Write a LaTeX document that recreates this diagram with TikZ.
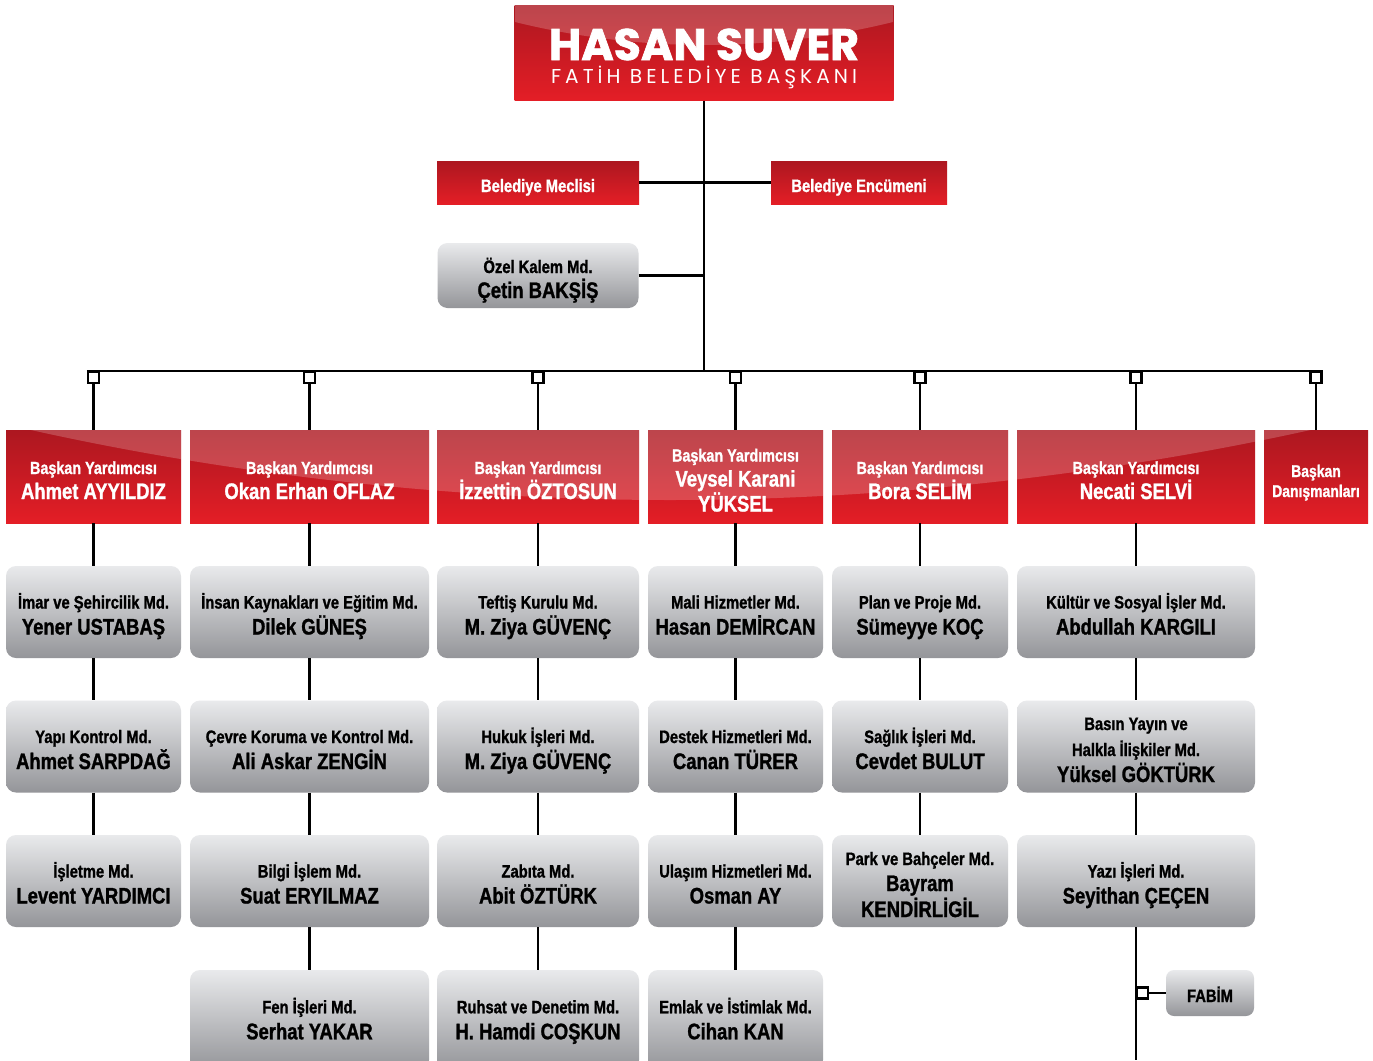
\documentclass[tikz,border=0pt]{standalone}
\usepackage{fontspec}
\usepackage{graphicx}
\setmainfont{Liberation Sans}
\newfontfamily\cond[FakeStretch=0.82, BoldFeatures={FakeBold=1.2}]{Liberation Sans}
\newfontfamily\pop[BoldFeatures={FakeBold=1.5}]{Poppins}
\newfontfamily\popsp[LetterSpace=20]{Poppins}
\definecolor{rdark}{HTML}{AC1720}
\definecolor{rbright}{HTML}{E41E26}
\definecolor{gtop}{HTML}{E9EAEC}
\definecolor{gbot}{HTML}{949599}
\newcommand\tp[1]{\rule{0pt}{#1pt}}
\newcommand\bt{\rule[-6pt]{0pt}{6pt}}
\newcommand\nm[1]{{\fontsize{22.5}{26}\selectfont #1}}
\newcommand\rn[1]{{\fontsize{22.5}{25}\selectfont #1}}
\tikzset{
 conn/.style={line width=2.5pt, black},
 sqbox/.style={draw=black, fill=white, line width=2.2pt, minimum size=11pt, inner sep=0pt},
 redbox/.style={inner sep=0pt, minimum height=93pt, top color=rdark, bottom color=rbright, text=white, align=center, font=\cond\bfseries\fontsize{17.5}{25}\selectfont},
 hdrbox/.style={inner sep=0pt, minimum height=43pt, top color=rdark, bottom color=rbright, text=white, align=center, font=\cond\bfseries\fontsize{18}{25}\selectfont},
 graybox/.style={rounded corners=10pt, inner sep=0pt, minimum height=92pt, top color=gtop, bottom color=gbot, text=black, align=center, font=\cond\bfseries\fontsize{18}{26}\selectfont},
 lastrow/.style={graybox, minimum height=100pt},
 gloss/.style={white, opacity=0.2},
}
\begin{document}
\begin{tikzpicture}[x=1pt,y=-1pt]
\useasboundingbox[fill=white] (0,0) rectangle (1373,1060);

% title
\node[redbox, minimum width=379pt, minimum height=95pt, font=\fontsize{10}{23}\selectfont] (title) at (704,53)
 {\tp{43}\resizebox{310pt}{!}{\fontsize{46}{46}\pop\bfseries HASAN SUVER}\\\resizebox{306pt}{!}{\fontsize{17}{17}\popsp FATİH BELEDİYE BAŞKANI}\bt};
\begin{scope}
 \clip (title.north west) rectangle (title.south east);
 \fill[gloss] (515,0) -- (515,22) parabola bend (704,45) (893,22) -- (893,0) -- cycle;
\end{scope}

\node[hdrbox, minimum width=202pt] (mec) at (538,182.5) {\tp{25}Belediye Meclisi\bt};
\node[hdrbox, minimum width=176pt] (enc) at (859,182.5) {\tp{25}Belediye Encümeni\bt};
\node[graybox, minimum width=201pt, minimum height=65pt, font=\cond\bfseries\fontsize{18}{25}\selectfont] (ozel) at (538,275.5) {\tp{26}Özel Kalem Md.\\\nm{Çetin BAKŞİŞ}\bt};

% vice presidents
\node[redbox, minimum width=175pt] (v1) at (93.5,476.5) {\tp{26}Başkan Yardımcısı\\\rn{Ahmet AYYILDIZ}\bt};
\node[redbox, minimum width=239pt] (v2) at (309.5,476.5) {\tp{26}Başkan Yardımcısı\\\rn{Okan Erhan OFLAZ}\bt};
\node[redbox, minimum width=202pt] (v3) at (538,476.5) {\tp{26}Başkan Yardımcısı\\\rn{İzzettin ÖZTOSUN}\bt};
\node[redbox, minimum width=175pt] (v4) at (735.5,476.5) {\tp{26}Başkan Yardımcısı\\\rn{Veysel Karani}\\\rn{YÜKSEL}\bt};
\node[redbox, minimum width=176pt] (v5) at (920,476.5) {\tp{26}Başkan Yardımcısı\\\rn{Bora SELİM}\bt};
\node[redbox, minimum width=238pt] (v6) at (1136,476.5) {\tp{26}Başkan Yardımcısı\\\rn{Necati SELVİ}\bt};
\node[redbox, minimum width=104pt, font=\cond\bfseries\fontsize{17}{20}\selectfont] (v7) at (1316,476.5) {\tp{27}Başkan\\Danışmanları\bt};
\begin{scope}
 \clip (v1.north west) rectangle (v1.south east) (v2.north west) rectangle (v2.south east)
       (v3.north west) rectangle (v3.south east) (v4.north west) rectangle (v4.south east)
       (v5.north west) rectangle (v5.south east) (v6.north west) rectangle (v6.south east)
       (v7.north west) rectangle (v7.south east);
 \fill[gloss] (0,400) -- (0,423) parabola bend (670,500) (1373,415.5) -- (1373,400) -- cycle;
\end{scope}

% column 1
\node[graybox, minimum width=175pt] (g11) at (93.5,612) {\tp{25}İmar ve Şehircilik Md.\\\nm{Yener USTABAŞ}\bt};
\node[graybox, minimum width=175pt] (g12) at (93.5,746.5) {\tp{25}Yapı Kontrol Md.\\\nm{Ahmet SARPDAĞ}\bt};
\node[graybox, minimum width=175pt] (g13) at (93.5,881) {\tp{25}İşletme Md.\\\nm{Levent YARDIMCI}\bt};
% column 2
\node[graybox, minimum width=239pt] (g21) at (309.5,612) {\tp{25}İnsan Kaynakları ve Eğitim Md.\\\nm{Dilek GÜNEŞ}\bt};
\node[graybox, minimum width=239pt] (g22) at (309.5,746.5) {\tp{25}Çevre Koruma ve Kontrol Md.\\\nm{Ali Askar ZENGİN}\bt};
\node[graybox, minimum width=239pt] (g23) at (309.5,881) {\tp{25}Bilgi İşlem Md.\\\nm{Suat ERYILMAZ}\bt};
\node[lastrow, minimum width=239pt] (g24) at (309.5,1020) {\tp{18.5}Fen İşleri Md.\\\nm{Serhat YAKAR}\bt};
% column 3
\node[graybox, minimum width=202pt] (g31) at (538,612) {\tp{25}Teftiş Kurulu Md.\\\nm{M. Ziya GÜVENÇ}\bt};
\node[graybox, minimum width=202pt] (g32) at (538,746.5) {\tp{25}Hukuk İşleri Md.\\\nm{M. Ziya GÜVENÇ}\bt};
\node[graybox, minimum width=202pt] (g33) at (538,881) {\tp{25}Zabıta Md.\\\nm{Abit ÖZTÜRK}\bt};
\node[lastrow, minimum width=202pt] (g34) at (538,1020) {\tp{18.5}Ruhsat ve Denetim Md.\\\nm{H. Hamdi COŞKUN}\bt};
% column 4
\node[graybox, minimum width=175pt] (g41) at (735.5,612) {\tp{25}Mali Hizmetler Md.\\\nm{Hasan DEMİRCAN}\bt};
\node[graybox, minimum width=175pt] (g42) at (735.5,746.5) {\tp{25}Destek Hizmetleri Md.\\\nm{Canan TÜRER}\bt};
\node[graybox, minimum width=175pt] (g43) at (735.5,881) {\tp{25}Ulaşım Hizmetleri Md.\\\nm{Osman AY}\bt};
\node[lastrow, minimum width=175pt] (g44) at (735.5,1020) {\tp{18.5}Emlak ve İstimlak Md.\\\nm{Cihan KAN}\bt};
% column 5
\node[graybox, minimum width=176pt] (g51) at (920,612) {\tp{25}Plan ve Proje Md.\\\nm{Sümeyye KOÇ}\bt};
\node[graybox, minimum width=176pt] (g52) at (920,746.5) {\tp{25}Sağlık İşleri Md.\\\nm{Cevdet BULUT}\bt};
\node[graybox, minimum width=176pt] (g53) at (920,881) {\tp{26}Park ve Bahçeler Md.\\\nm{Bayram}\\\nm{KENDİRLİGİL}\bt};
% column 6
\node[graybox, minimum width=238pt] (g61) at (1136,612) {\tp{25}Kültür ve Sosyal İşler Md.\\\nm{Abdullah KARGILI}\bt};
\node[graybox, minimum width=238pt] (g62) at (1136,746.5) {\tp{25}Basın Yayın ve\\Halkla İlişkiler Md.\\\nm{Yüksel GÖKTÜRK}\bt};
\node[graybox, minimum width=238pt] (g63) at (1136,881) {\tp{25}Yazı İşleri Md.\\\nm{Seyithan ÇEÇEN}\bt};
\node[graybox, minimum width=88pt, minimum height=46pt, rounded corners=8pt] (fab) at (1210,993) {\tp{24}FABİM\bt};
\coordinate (bot6) at (1136,1060);

% connectors
\node[sqbox] (s1) at (93.5,377.5) {};
\node[sqbox] (s2) at (309.5,377.5) {};
\node[sqbox] (s3) at (538,377.5) {};
\node[sqbox] (s4) at (735.5,377.5) {};
\node[sqbox] (s5) at (920,377.5) {};
\node[sqbox] (s6) at (1136,377.5) {};
\node[sqbox] (s7) at (1316,377.5) {};
\draw[conn] (title.south) -- (title.south |- s4.north);
\draw[conn] (mec.east) -- (enc.west);
\draw[conn] (ozel.east) -- (ozel.east -| title.south);
\draw[conn] (s1.north west) -- (s7.north east);
\foreach \i in {1,...,7} {\draw[conn] (s\i.south) -- (v\i.north);}
\foreach \i in {1,...,7} {\node[sqbox] at (s\i) {};}
\draw[conn] (v1.south) -- (g11.north) (g11.south) -- (g12.north) (g12.south) -- (g13.north);
\draw[conn] (v2.south) -- (g21.north) (g21.south) -- (g22.north) (g22.south) -- (g23.north) (g23.south) -- (g24.north);
\draw[conn] (v3.south) -- (g31.north) (g31.south) -- (g32.north) (g32.south) -- (g33.north) (g33.south) -- (g34.north);
\draw[conn] (v4.south) -- (g41.north) (g41.south) -- (g42.north) (g42.south) -- (g43.north) (g43.south) -- (g44.north);
\draw[conn] (v5.south) -- (g51.north) (g51.south) -- (g52.north) (g52.south) -- (g53.north);
\draw[conn] (v6.south) -- (g61.north) (g61.south) -- (g62.north) (g62.south) -- (g63.north) (g63.south) -- (bot6);
\node[sqbox] (sf) at (1142.5,993) {};
\draw[conn] (sf.east) -- (fab.west);
\end{tikzpicture}
\end{document}
